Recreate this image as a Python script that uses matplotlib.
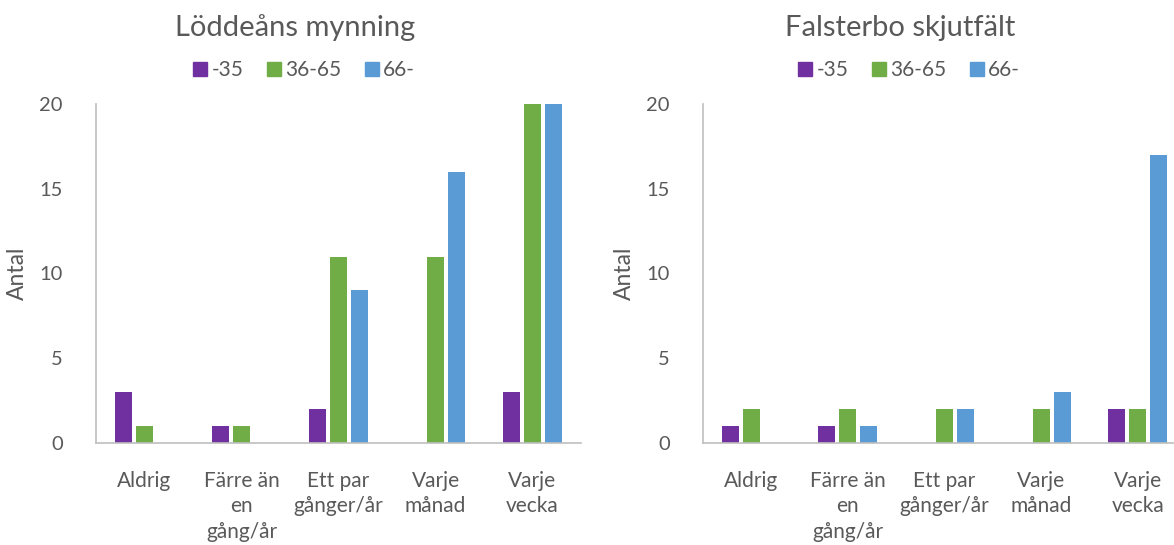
import matplotlib
matplotlib.use("Agg")
import matplotlib.pyplot as plt
from matplotlib.lines import Line2D
import numpy as np

categories = ["Aldrig", "Färre än\nen\ngång/år", "Ett par\ngånger/år", "Varje\nmånad", "Varje\nvecka"]
series_names = ["-35", "36-65", "66-"]
colors = ["#7030A0", "#70AD47", "#5B9BD5"]

lodde_35 = [3, 1, 2, 0, 3]
lodde_36_65 = [1, 1, 11, 11, 20]
lodde_66 = [0, 0, 9, 16, 20]

falsterbo_35 = [1, 1, 0, 0, 2]
falsterbo_36_65 = [2, 2, 2, 2, 2]
falsterbo_66 = [0, 1, 2, 3, 17]

titles = ["Löddeåns mynning", "Falsterbo skjutfält"]
yticks = [0, 5, 10, 15, 20]

plt.rcParams['font.family'] = ['Lato', 'DejaVu Sans']
textc = "#595959"

fig = plt.figure(figsize=(11.74, 5.45), dpi=100)
W, H = 1174, 545

def make_ax(x0, x1, data, title, tx, legx):
    y0, y1 = 443, 104
    ax = fig.add_axes([x0 / W, 1 - y0 / H, (x1 - x0) / W, (y0 - y1) / H])
    x = np.arange(len(categories))
    step = 0.2176
    bw = 0.176
    for i, (vals, c) in enumerate(zip(data, colors)):
        ax.bar(x + (i - 1) * step, vals, width=bw, color=c, zorder=2)
    ax.set_xlim(-0.5, len(categories) - 0.5)
    ax.set_ylim(0, 20)
    ax.set_yticks(yticks)
    ax.set_xticks(x)
    ax.set_xticklabels(categories, fontsize=15, color=textc, linespacing=1.35)
    ax.tick_params(axis='both', length=0, labelcolor=textc)
    ax.tick_params(axis='y', pad=24, labelsize=14.5)
    ax.tick_params(axis='x', pad=20)
    for s in ['top', 'right']:
        ax.spines[s].set_visible(False)
    for s in ['left', 'bottom']:
        ax.spines[s].set_color("#BFBFBF")
        ax.spines[s].set_linewidth(1.2)
    ax.set_ylabel("Antal", fontsize=16.5, color=textc, labelpad=8)
    fig.text(tx / W, 1 - 28 / H, title, ha='center', va='center', fontsize=21, color=textc)
    handles = [Line2D([], [], marker='s', linestyle='none', markersize=10.5, color=c) for c in colors]
    fig.legend(handles, series_names, loc='center', bbox_to_anchor=(legx / W, 1 - 70 / H),
               ncol=3, frameon=False, fontsize=15, labelcolor=textc,
               handletextpad=0.0, columnspacing=0.9, handlelength=1.1)
    return ax

make_ax(96, 581, [lodde_35, lodde_36_65, lodde_66], titles[0], 295, 302)
make_ax(703, 1186, [falsterbo_35, falsterbo_36_65, falsterbo_66], titles[1], 900, 907)

fig.savefig("out.png", dpi=100)
